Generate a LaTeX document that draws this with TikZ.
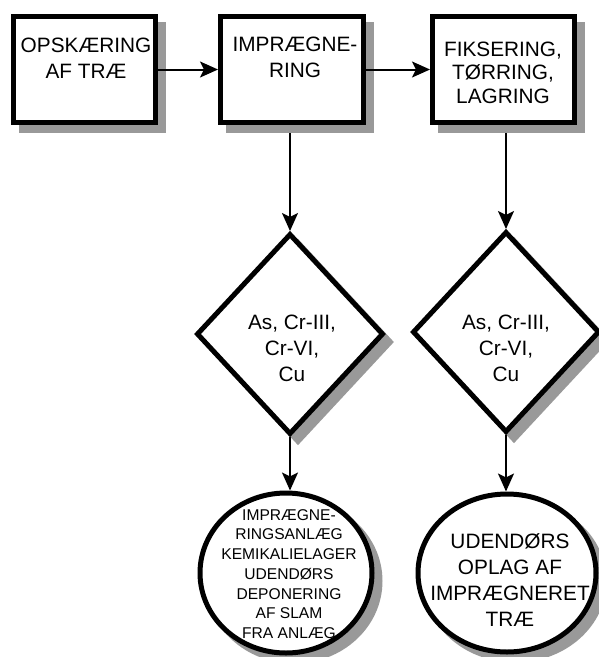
\documentclass[tikz,border=0pt]{standalone}
\usepackage{fontspec}
\setmainfont{Liberation Sans}
\usetikzlibrary{shapes.geometric,shadows,arrows.meta,backgrounds}
\definecolor{shadowgray}{RGB}{153,153,153}
\begin{document}
\begin{tikzpicture}[x=1pt,y=-1pt,
  shapebase/.style={draw=black, line width=5pt, fill=white,
    drop shadow={shadow xshift=8pt, shadow yshift=-8pt, opacity=1,
      fill=shadowgray, draw=shadowgray, line width=5pt}},
  procbox/.style={shapebase, rectangle, minimum width=142pt, minimum height=106pt, inner sep=0pt},
  decision/.style={shapebase, diamond, minimum width=187pt, minimum height=201pt, inner sep=0pt},
  store/.style={shapebase, ellipse, inner sep=0pt},
  lbl/.style={align=center, inner sep=0pt, font=\fontsize{20.8}{26}\selectfont},
  smalllbl/.style={align=center, inner sep=0pt, font=\fontsize{15.6}{19.7}\selectfont},
  conn/.style={line width=2pt, -{Stealth[length=18pt,width=16pt,inset=4pt]}}
]
\useasboundingbox (0,0) rectangle (599,657);

% process boxes
\node[procbox] (b1) at (84.5,69.5) {};
\node[procbox, minimum width=143pt] (b2) at (292,69.5) {};
\node[procbox] (b3) at (503.5,69.5) {};

% decisions
\node[decision] (d1) at (290,334) {};
\node[decision] (d2) at (506,332) {};

% stores
\node[store, minimum width=172pt, minimum height=160pt] (e1) at (286,573) {};
\node[store, minimum width=178pt, minimum height=158pt] (e2) at (507,573) {};

% texts
\node[lbl] (t1) at (86,58.5) {OPSKÆRING\\AF TRÆ};
\node[lbl] (t2) at (295,57.5) {IMPRÆGNE-\\RING};
\node[lbl, font=\fontsize{20.8}{23.5}\selectfont] (t3) at (503,72.5) {FIKSERING,\\TØRRING,\\LAGRING};
\node[lbl] (td1) at (292,348) {As, Cr-III,\\Cr-VI,\\Cu};
\node[lbl] (td2) at (506,348) {As, Cr-III,\\Cr-VI,\\Cu};
\node[smalllbl] (te1) at (289,574) {IMPRÆGNE-\\RINGSANLÆG\\KEMIKALIELAGER\\UDENDØRS\\DEPONERING\\AF SLAM\\FRA ANLÆG};
\node[lbl] (te2) at (510,580) {UDENDØRS\\OPLAG AF\\IMPRÆGNERET\\TRÆ};

% connectors
\draw[conn] (b1.east) -- (b2.west);
\draw[conn] (b2.east) -- (b3.west);
\begin{scope}[on background layer]
\draw[conn] (b2.south -| d1.north) -- (d1.north);
\draw[conn] (b3.south -| d2.north) -- (d2.north);
\end{scope}
\draw[conn] (d1.south) -- (d1.south |- e1.north);
\draw[conn] (d2.south) -- (d2.south |- e2.north);
\end{tikzpicture}
\end{document}
